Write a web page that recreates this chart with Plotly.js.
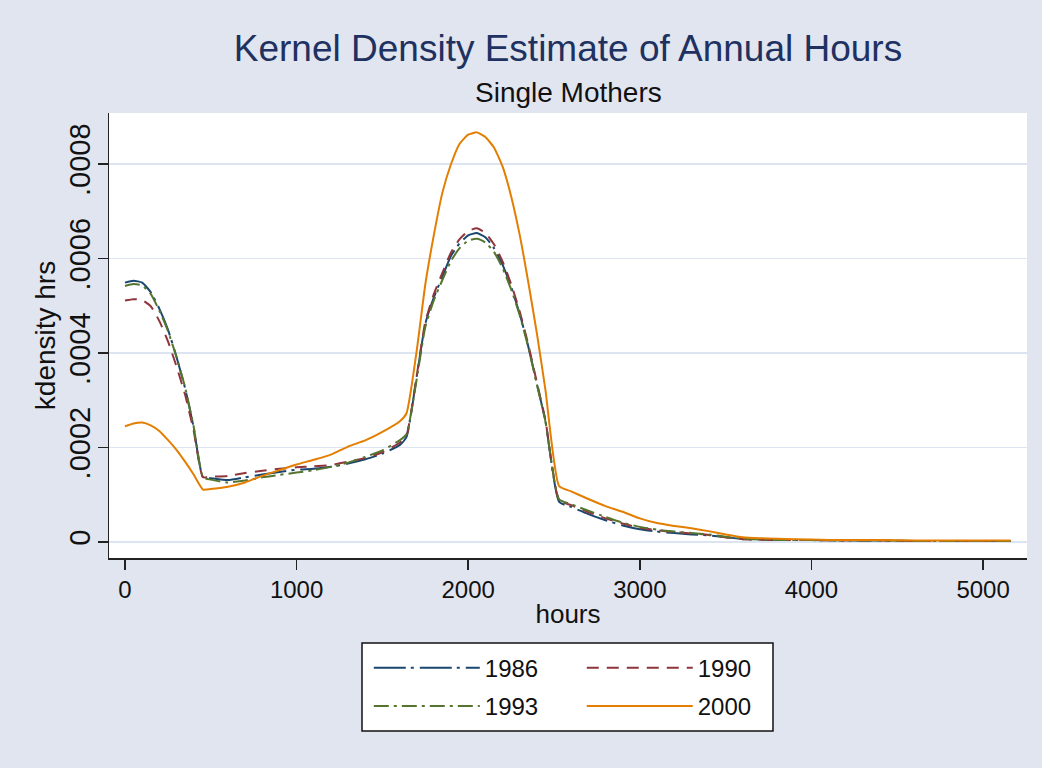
<!DOCTYPE html>
<html>
<head>
<meta charset="utf-8">
<script src="https://cdn.plot.ly/plotly-3.0.1.min.js"></script>
<style>html,body{margin:0;padding:0;background:#e1e5ef;}#chart{width:1042px;height:768px;}</style>
</head>
<body>
<div id="chart"></div>
<script>
const hours = [0,50,100,150,200,250,300,350,400,455,500,600,700,800,900,1000,1100,1200,1300,1400,1500,1600,1640,1700,1750,1800,1850,1900,1950,2000,2050,2100,2150,2200,2250,2300,2350,2400,2450,2530,2600,2700,2800,2900,3000,3100,3200,3300,3400,3500,3600,3700,3800,4000,4200,4400,4600,4800,5000,5160];

const dens1986 = [.000549,.000553,.000549,.000529,.000494,.000450,.000392,.000326,.000243,.000137,.000135,.000131,.000137,.000143,.000148,.000153,.000155,.000159,.000166,.000175,.000187,.000205,.000222,.000350,.000462,.000518,.000562,.000606,.000632,.000649,.000654,.000645,.000622,.000587,.000540,.000483,.000414,.000335,.000256,.000085,.000074,.000059,.000046,.000035,.000027,.000022,.000019,.000016,.000014,.000010,.000006,.000005,.000004,.000004,.000003,.000003,.000002,.000002,.000002,.000002];

const dens1990 = [.000511,.000514,.000512,.000499,.000468,.000425,.000372,.000312,.000236,.000137,.000138,.000140,.000146,.000151,.000155,.000158,.000160,.000163,.000170,.000178,.000190,.000210,.000225,.000352,.000466,.000525,.000570,.000613,.000641,.000658,.000664,.000654,.000630,.000594,.000546,.000488,.000418,.000338,.000258,.000088,.000078,.000063,.000050,.000039,.000030,.000025,.000021,.000018,.000015,.000010,.000006,.000005,.000004,.000004,.000003,.000003,.000002,.000002,.000002,.000002];

const dens1993 = [.000542,.000546,.000543,.000525,.000490,.000447,.000392,.000328,.000245,.000137,.000132,.000126,.000130,.000137,.000142,.000147,.000152,.000159,.000168,.000180,.000194,.000215,.000228,.000345,.000455,.000512,.000555,.000595,.000622,.000638,.000642,.000634,.000614,.000580,.000535,.000480,.000412,.000334,.000255,.000090,.000080,.000066,.000053,.000041,.000032,.000026,.000022,.000019,.000016,.000011,.000007,.000005,.000004,.000004,.000003,.000003,.000002,.000002,.000002,.000002];

const dens2000 = [.000245,.000251,.000253,.000247,.000235,.000216,.000195,.000170,.000143,.000111,.000112,.000117,.000126,.000140,.000152,.000164,.000174,.000185,.000202,.000215,.000233,.000255,.000272,.000405,.000545,.000650,.000740,.000800,.000843,.000862,.000867,.000857,.000835,.000795,.000732,.000650,.000550,.000442,.000322,.000118,.000107,.000091,.000076,.000064,.000050,.000040,.000034,.000029,.000023,.000016,.000010,.000008,.000007,.000005,.000004,.000004,.000003,.000003,.000003,.000003];

const seriesNames = ["1986","1990","1993","2000"];
const yTickVals = [0,0.0002,0.0004,0.0006,0.0008];
const yTickText = ["0",".0002",".0004",".0006",".0008"];
const xTickVals = [0,1000,2000,3000,4000,5000];

const FONT = "Liberation Sans, Arial, sans-serif";
const LINE_SHAPE = {shape: "spline", smoothing: 0.5};

const traces = [
  {x: hours, y: dens1986, name: seriesNames[0], mode: "lines", legend: "legend", legendgroup: "a",
   line: Object.assign({color: "#1a476f", width: 2, dash: "32px,5px,3px,6px"}, LINE_SHAPE)},
  {x: hours, y: dens1990, name: seriesNames[1], mode: "lines", legend: "legend2", legendgroup: "b",
   line: Object.assign({color: "#90353b", width: 2, dash: "12px,8px"}, LINE_SHAPE)},
  {x: hours, y: dens1993, name: seriesNames[2], mode: "lines", legend: "legend", legendgroup: "c",
   line: Object.assign({color: "#55752f", width: 2, dash: "15px,5px,3px,5px"}, LINE_SHAPE)},
  {x: hours, y: dens2000, name: seriesNames[3], mode: "lines", legend: "legend2", legendgroup: "d",
   line: Object.assign({color: "#e37e00", width: 2}, LINE_SHAPE)}
];

const legendCommon = {
  y: -0.197, xanchor: "left", yanchor: "top",
  xref: "paper", yref: "paper",
  bgcolor: "rgba(0,0,0,0)", borderwidth: 0,
  itemwidth: 106, traceorder: "grouped", tracegroupgap: 4,
  font: {family: FONT, size: 24, color: "#111"}
};

const layout = {
  width: 1042, height: 768,
  paper_bgcolor: "#e1e5ef",
  plot_bgcolor: "#ffffff",
  font: {family: FONT, size: 24, color: "#111111"},
  margin: {l: 109, r: 15, t: 113, b: 210, pad: 0},
  title: {
    text: "Kernel Density Estimate of Annual Hours",
    font: {family: FONT, size: 37, color: "#1e3160"},
    x: 0.5, xanchor: "center", xref: "paper",
    y: 0.937, yanchor: "middle", yref: "container"
  },
  annotations: [
    {text: "Single Mothers", xref: "paper", yref: "paper", x: 0.5, y: 1.0455,
     xanchor: "center", yanchor: "middle", showarrow: false,
     font: {family: FONT, size: 28, color: "#111111"}}
  ],
  xaxis: {
    range: [-93, 5256],
    tickvals: xTickVals,
    ticks: "outside", ticklen: 10, tickwidth: 1.5, tickcolor: "#222",
    showline: true, linecolor: "#222", linewidth: 1.5, mirror: false,
    showgrid: false, zeroline: false,
    tickfont: {family: FONT, size: 24, color: "#111"},
    title: {text: "hours", font: {family: FONT, size: 26, color: "#111"}, standoff: 2}
  },
  yaxis: {
    range: [-0.0000339, 0.000908],
    tickvals: yTickVals, ticktext: yTickText,
    tickangle: -90,
    ticks: "outside", ticklen: 10, tickwidth: 1.5, tickcolor: "#222",
    ticklabelstandoff: -4,
    showline: true, linecolor: "#222", linewidth: 1.5,
    showgrid: true, gridcolor: "#dde4f1", gridwidth: 1.5,
    zeroline: false,
    tickfont: {family: FONT, size: 29, color: "#111"},
    title: {text: "kdensity hrs", font: {family: FONT, size: 28, color: "#111"}, standoff: 0}
  },
  showlegend: true,
  legend: Object.assign({x: 0.283}, legendCommon),
  legend2: Object.assign({x: 0.515}, legendCommon),
  shapes: [
    {type: "rect", xref: "paper", yref: "paper", layer: "below",
     x0: 0.2756, x1: 0.7233, y0: -0.191, y1: -0.389,
     fillcolor: "#ffffff", line: {color: "#111", width: 1.5}}
  ]
};

Plotly.newPlot("chart", traces, layout, {displayModeBar: false, staticPlot: true});
</script>
</body>
</html>
